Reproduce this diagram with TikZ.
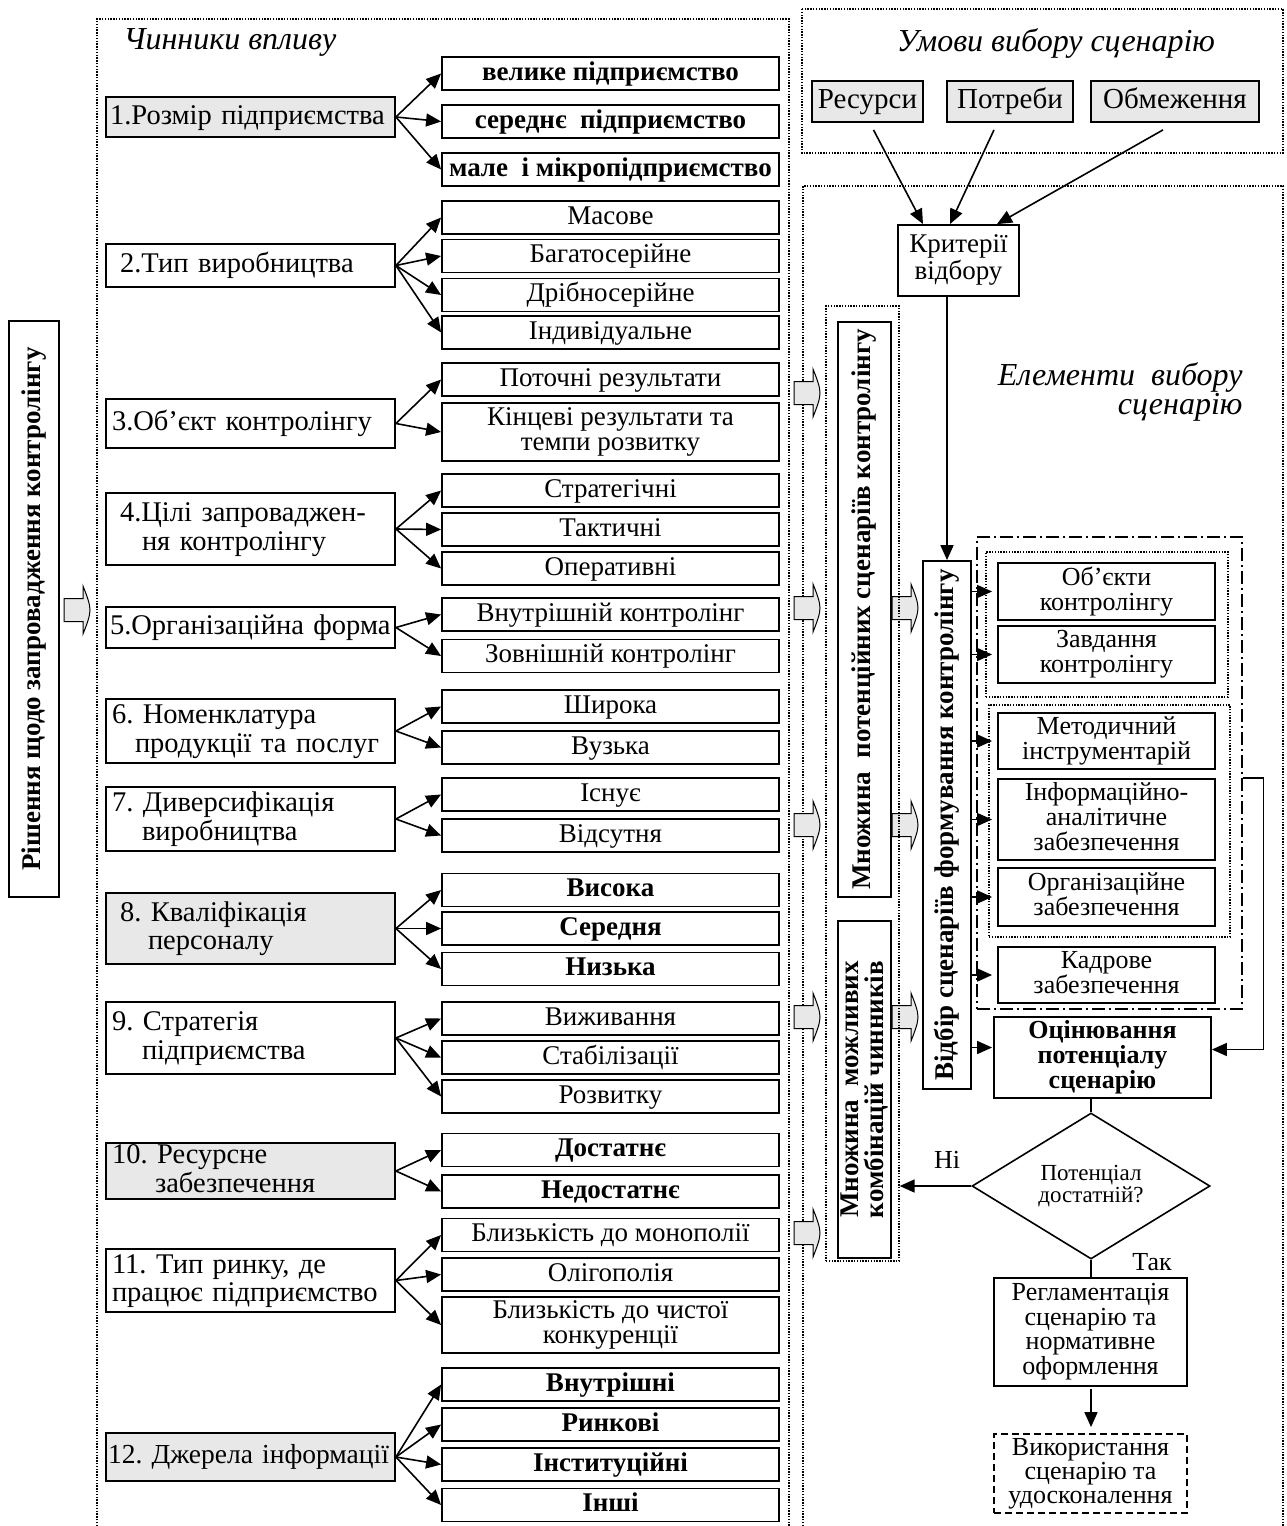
\documentclass[tikz,border=0pt]{standalone}
\usepackage{fontspec}
\setmainfont{Liberation Serif}
\usetikzlibrary{arrows.meta,shapes.geometric}
\definecolor{boxgray}{RGB}{232,232,232}
\newcommand\fsz[2]{\fontsize{#1}{#2}\selectfont\frenchspacing}
\newcommand\tstrut{\rule[-.23em]{0pt}{.96em}}

\begin{document}
\begin{tikzpicture}[x=1pt,y=-1pt,
  box/.style={draw, line width=1.8pt, inner sep=0pt, align=center},
  strut/.style={execute at begin node=\tstrut, execute at end node=\tstrut},
  opt/.style={box, strut, minimum width=337pt, minimum height=33pt, font=\fsz{27}{25}},
  optb/.style={opt, font=\fsz{27}{25}\bfseries},
  fac/.style={box, strut, inner xsep=4pt, inner ysep=0pt, text width=281pt, align=left, font=\fsz{28.5}{26}},
  shade/.style={fill=boxgray},
  elem/.style={box, strut, minimum width=217pt, font=\fsz{26}{25}},
  vbox/.style={box, rotate=90, font=\fsz{27}{27}\bfseries},
  dotframe/.style={draw, line width=1.3pt, dash pattern=on 1.4pt off 1.4pt, inner sep=0pt},
  arr/.style={line width=1.6pt, -{Triangle[length=15pt,width=13pt]}},
  link/.style={line width=1.6pt},
  title/.style={font=\fsz{32}{29}\itshape},
  blk/.pic={\draw[line width=1pt, fill=boxgray]
     (0,-11.5) -- (19,-11.5) -- (19,-24) .. controls (23,-14) and (26,-6) .. (26,0)
     .. controls (26,6) and (23,14) .. (19,24) -- (19,11.5) -- (0,11.5) -- cycle;}
]
\useasboundingbox (0,0) rectangle (1287,1526);
\fill[white] (0,0) rectangle (1287,1526);

% ---------- outer frames ----------
\draw[dotframe] (97,1526) -- (97,19) -- (789,19) -- (789,1526);
\draw[dotframe] (802,9) rectangle (1283,153);
\draw[dotframe] (803,1526) -- (803,186) -- (1283,186) -- (1283,1526);

\node[title, anchor=west] (tfac) at (120,42) {Чинники впливу};
\node[title] (tcond) at (1056,43) {Умови вибору сценарію};
\node[title, anchor=east, align=right] (telem) at (1246,392)
  {Елементи\ \ вибору\\сценарію};

% ---------- decision box on the far left ----------
\node[vbox, minimum width=576pt, minimum height=50pt] (dec) at (34,609)
  {Рішення щодо запровадження контролінгу};
\pic at (64,610) {blk};

% ---------- factors ----------
\node[fac, shade, minimum height=40pt] (f1) at (250.5,117) {\mbox{1.Розмір підприємства}};
\node[fac, minimum height=43pt] (f2) at (250.5,265.5) {\hspace*{10pt}2.Тип виробництва};
\node[fac, minimum height=49pt] (f3) at (250.5,423.5) {\hspace*{2pt}3.Об’єкт контролінгу};
\node[fac, minimum height=72pt] (f4) at (250.5,529) {\hspace*{10pt}4.Цілі запроваджен-\\\hspace*{32pt}ня контролінгу};
\node[fac, minimum height=41pt] (f5) at (250.5,627.5) {\mbox{5.Організаційна форма}};
\node[fac, minimum height=64pt] (f6) at (250.5,731) {\hspace*{2pt}6. Номенклатура\\\hspace*{25pt}продукції та послуг};
\node[fac, minimum height=64pt] (f7) at (250.5,819) {\hspace*{2pt}7. Диверсифікація\\\hspace*{32pt}виробництва};
\node[fac, shade, minimum height=71pt] (f8) at (250.5,928.5) {\hspace*{10pt}8. Кваліфікація\\\hspace*{38pt}персоналу};
\node[fac, minimum height=72pt] (f9) at (250.5,1038) {\hspace*{2pt}9. Стратегія\\\hspace*{32pt}підприємства};
\node[fac, shade, minimum height=56pt] (f10) at (250.5,1171) {\hspace*{2pt}10. Ресурсне\\\hspace*{45pt}забезпечення};
\node[fac, minimum height=63pt] (f11) at (250.5,1280.5) {\hspace*{2pt}11. Тип ринку, де\\\mbox{\hspace*{2pt}працює підприємство}};
\node[fac, shade, minimum height=48pt, inner xsep=2pt, text width=285pt, font=\fsz{27.5}{26}] (f12) at (250.5,1457)
  {\mbox{12. Джерела інформації}};

% ---------- factor values ----------
\node[optb] (o1a) at (610.5,73.5) {велике підприємство};
\node[optb] (o1b) at (610.5,121.5) {середнє\ \ підприємство};
\node[optb] (o1c) at (610.5,169.5) {мале\ \ і мікропідприємство};
\node[opt] (o2a) at (610.5,217.5) {Масове};
\node[opt] (o2b) at (610.5,256) {Багатосерійне};
\node[opt] (o2c) at (610.5,295) {Дрібносерійне};
\node[opt] (o2d) at (610.5,332.5) {Індивідуальне};
\node[opt] (o3a) at (610.5,379.5) {Поточні результати};
\node[opt, minimum height=58pt] (o3b) at (610.5,432) {Кінцеві результати та\\темпи розвитку};
\node[opt] (o4a) at (610.5,490.5) {Стратегічні};
\node[opt] (o4b) at (610.5,529.5) {Тактичні};
\node[opt] (o4c) at (610.5,568.5) {Оперативні};
\node[opt] (o5a) at (610.5,614.5) {Внутрішній контролінг};
\node[opt] (o5b) at (610.5,656) {Зовнішній контролінг};
\node[opt] (o6a) at (610.5,706.5) {Широка};
\node[opt] (o6b) at (610.5,747.5) {Вузька};
\node[opt] (o7a) at (610.5,794.5) {Існує};
\node[opt] (o7b) at (610.5,835.5) {Відсутня};
\node[optb] (o8a) at (610.5,890) {Висока};
\node[optb] (o8b) at (610.5,928.5) {Середня};
\node[optb] (o8c) at (610.5,969) {Низька};
\node[opt] (o9a) at (610.5,1018.5) {Виживання};
\node[opt] (o9b) at (610.5,1057.5) {Стабілізації};
\node[opt] (o9c) at (610.5,1096.5) {Розвитку};
\node[optb] (o10a) at (610.5,1150) {Достатнє};
\node[optb] (o10b) at (610.5,1191.5) {Недостатнє};
\node[opt] (o11a) at (610.5,1235) {Близькість до монополії};
\node[opt] (o11b) at (610.5,1274.5) {Олігополія};
\node[opt, minimum height=56pt] (o11c) at (610.5,1325) {Близькість до чистої\\конкуренції};
\node[optb] (o12a) at (610.5,1384.5) {Внутрішні};
\node[optb] (o12b) at (610.5,1424.5) {Ринкові};
\node[optb] (o12c) at (610.5,1464.5) {Інституційні};
\node[optb] (o12d) at (610.5,1505) {Інші};

\foreach \f/\o in {f1/o1a,f1/o1b,f1/o1c,f2/o2a,f2/o2b,f2/o2c,f2/o2d,f3/o3a,f3/o3b,
  f4/o4a,f4/o4b,f4/o4c,f5/o5a,f5/o5b,f6/o6a,f6/o6b,f7/o7a,f7/o7b,f8/o8a,f8/o8b,f8/o8c,
  f9/o9a,f9/o9b,f9/o9c,f10/o10a,f10/o10b,f11/o11a,f11/o11b,f11/o11c,
  f12/o12a,f12/o12b,f12/o12c,f12/o12d}
  \draw[arr] (\f.east) -- (\o.west);

% ---------- block arrows between the columns ----------
\foreach \y in {393,608,825,1017,1233} \pic at (794,\y) {blk};
\foreach \y in {608,825,1017} \pic at (892,\y) {blk};

% ---------- conditions of choice ----------
\node[box, strut, shade, minimum width=111pt, minimum height=41pt, font=\fsz{29}{29}] (res) at (867.5,101.5) {Ресурси};
\node[box, strut, shade, minimum width=126pt, minimum height=41pt, font=\fsz{29}{29}] (need) at (1010,101.5) {Потреби};
\node[box, strut, shade, minimum width=168pt, minimum height=41pt, font=\fsz{29}{29}] (lim) at (1175,101.5) {Обмеження};

\node[box, strut, minimum width=121pt, minimum height=71pt, font=\fsz{27}{27}] (krit) at (958.5,260.5) {Критерії\\відбору};

\draw[arr] ([xshift=6pt,yshift=-7pt]res.south) -- ([xshift=-35.5pt]krit.north);
\draw[arr] ([xshift=-16pt,yshift=-7pt]need.south) -- ([xshift=-8.5pt]krit.north);
\draw[arr] ([xshift=-12pt,yshift=-7pt]lim.south) -- ([xshift=38.5pt]krit.north);

% ---------- sets of scenarios ----------
\node[dotframe, minimum width=73pt, minimum height=955pt] (mset) at (862.5,783.5) {};
\node[vbox, minimum width=575pt, minimum height=53pt] (m1) at (864.5,609.5)
  {Множина\ \ потенційних сценаріїв контролінгу};
\node[vbox, minimum width=337pt, minimum height=53pt, font=\fsz{27}{25}\bfseries] (m2) at (864.5,1089.5)
  {Множина\ \ можливих\\комбінацій чинників};

% rotated box: its east anchor is the top edge, its south anchor the right edge
\node[vbox, minimum width=528pt, minimum height=48pt] (sel) at (947,825)
  {Відбір сценаріїв формування контролінгу};
\draw[arr] (sel.east |- krit.south) -- (sel.east);

% ---------- elements of the scenario ----------
\node[draw, line width=1.3pt, dash pattern=on 13pt off 4pt on 2pt off 4pt,
  minimum width=265pt, minimum height=472pt, inner sep=0pt] (ddf) at (1109.5,773) {};
\node[dotframe, minimum width=242pt, minimum height=145pt] (dfa) at (1107,624.5) {};
\node[dotframe, minimum width=241pt, minimum height=232pt] (dfb) at (1109.5,821) {};

\node[elem, minimum height=57pt] (e1) at (1106.5,591.5) {Об’єкти\\контролінгу};
\node[elem, minimum height=57pt] (e2) at (1106.5,654.5) {Завдання\\контролінгу};
\node[elem, minimum height=56pt] (e3) at (1106.5,741) {Методичний\\інструментарій};
\node[elem, minimum height=81pt] (e4) at (1106.5,819.5) {Інформаційно-\\аналітичне\\забезпечення};
\node[elem, minimum height=58pt] (e5) at (1106.5,897) {Організаційне\\забезпечення};
\node[elem, minimum height=56pt] (e6) at (1106.5,975) {Кадрове\\забезпечення};
\node[elem, minimum height=81pt, font=\fsz{26}{25}\bfseries] (eval) at (1102.5,1057.5)
  {Оцінювання\\потенціалу\\сценарію};

\foreach \e in {e1,e2,e3,e4,e5,e6}
  \draw[arr, shorten >=5pt] (sel.south |- \e.west) -- (\e.west);
\draw[arr, shorten >=1pt] (sel.south |- eval.west) ++(0,-10) -- ([yshift=10pt]eval.west);

% feedback into the evaluation
\draw[arr] ([yshift=-5pt]ddf.east) -- ++(21,0) |- ([yshift=8pt]eval.east);

% ---------- decision on the potential ----------
\node[draw, diamond, line width=1.6pt, minimum width=238pt, minimum height=95pt, inner sep=0pt,
  align=center, font=\fsz{23}{20}] (dia) at (1091,1186) {Потенціал\\достатній?};
\draw[link] (dia.north |- eval.south) -- (dia.north);
\draw[arr] (dia.west) -- (dia.west -| mset.east);
\node[font=\fsz{26}{26}] (no) at (947,1160) {Ні};

\node[box, strut, minimum width=193pt, minimum height=108pt, font=\fsz{26}{24.5}] (reg) at (1090.5,1332)
  {Регламентація\\сценарію та\\нормативне\\оформлення};
\draw[link] (dia.south) -- (dia.south |- reg.north);
\node[font=\fsz{26}{26}] (yes) at (1152,1262) {Так};

\node[box, strut, dash pattern=on 7pt off 4pt, minimum width=193pt, minimum height=79pt, font=\fsz{26}{24}] (use) at (1090.5,1473.5)
  {Використання\\сценарію та\\удосконалення};
\draw[arr, shorten <=2pt, shorten >=6pt] (reg.south -| dia.south) -- (use.north -| dia.south);

\end{tikzpicture}
\end{document}
